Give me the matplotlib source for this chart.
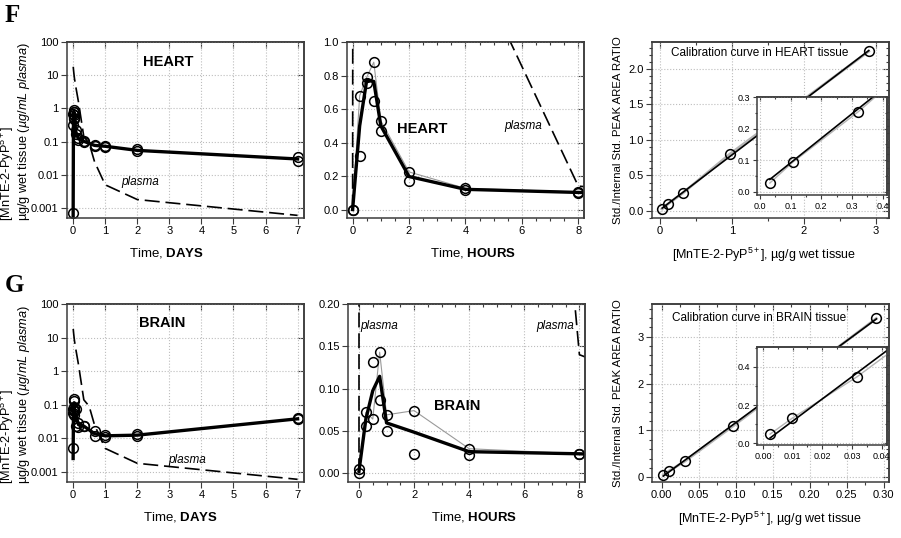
import numpy as np
import matplotlib
matplotlib.use('Agg')
import matplotlib.pyplot as plt
from matplotlib.ticker import MultipleLocator, NullLocator, LogLocator, FuncFormatter, FormatStrFormatter

plt.rcParams['font.family'] = ['Liberation Sans', 'DejaVu Sans']
plt.rcParams['mathtext.fontset'] = 'custom'
plt.rcParams['mathtext.rm'] = 'Liberation Sans'
plt.rcParams['mathtext.it'] = 'Liberation Sans:italic'
plt.rcParams['mathtext.bf'] = 'Liberation Sans:bold'

# sampling times, hours
t_hours = np.array([0, 0.25, 0.5, 0.75, 1, 2, 4, 8, 16, 24, 48, 168])

# heart tissue, two animals per time point (ug/g)
heart_a = np.array([0.0007, 0.68, 0.79, 0.88, 0.53, 0.225, 0.127, 0.105, 0.080, 0.075, 0.058, 0.034])
heart_b = np.array([0.0, 0.32, 0.755, 0.65, 0.47, 0.17, 0.115, 0.10, 0.074, 0.070, 0.051, 0.026])

# brain tissue
brain_a = np.array([0.005, 0.072, 0.064, 0.143, 0.069, 0.074, 0.029, 0.023, 0.016, 0.0127, 0.013, 0.039])
brain_b = np.array([0.0, 0.056, 0.131, 0.086, 0.050, 0.023, 0.022, 0.023, 0.0115, 0.011, 0.0118, 0.037])

# plasma (ug/mL)
plasma_hours = np.array([0, 0.083, 0.25, 0.5, 1, 2, 4, 8, 12, 16, 24, 48, 168])
plasma_conc = np.array([0, 18, 15, 12, 8, 4.5, 1.57, 0.14, 0.09, 0.025, 0.005, 0.0018, 0.0006])

# calibration standards
heart_cal_x = np.array([0.032, 0.107, 0.32, 0.97, 2.9])
heart_cal_y = np.array([0.028, 0.094, 0.253, 0.80, 2.25])
brain_cal_x = np.array([0.0024, 0.0099, 0.0318, 0.096, 0.29])
brain_cal_y = np.array([0.047, 0.131, 0.349, 1.09, 3.39])

heart_mean = (heart_a + heart_b) / 2
brain_mean = (brain_a + brain_b) / 2
t_days = t_hours / 24.
plasma_days = plasma_hours / 24.

FR = '#3c3c3c'
circ = dict(ls='none', marker='o', mfc='none', mec='k', ms=7, mew=1.1)
ylab = "[MnTE-2-PyP$^{5+}$]\nµg/g wet tissue $\\mathit{(µg/mL\\ plasma)}$"
callab = "[MnTE-2-PyP$^{5+}$], µg/g wet tissue"


def locs(step):
    if step is None:
        return NullLocator()
    if step == 'log':
        return LogLocator(base=10, numticks=12)
    return MultipleLocator(step)


def style(ax, xmaj, xmin, ymaj, ymin, lab=8, L=4):
    ax.grid(True, which='major', ls=':', color='#bdbdbd', lw=0.8)
    ax.set_axisbelow(True)
    for s in ax.spines.values():
        s.set_color(FR)
        s.set_linewidth(1.1)
    ax.tick_params(which='both', direction='out', color=FR, labelsize=lab, width=0.8, pad=2)
    ax.tick_params(which='major', length=L)
    ax.tick_params(which='minor', length=L * 0.6)
    ax.xaxis.set_major_locator(locs(xmaj))
    ax.xaxis.set_minor_locator(locs(xmin))
    ax.yaxis.set_major_locator(locs(ymaj))
    ax.yaxis.set_minor_locator(locs(ymin))
    # mirrored ticks pointing inwards on top / right
    sx = ax.secondary_xaxis('top')
    sx.xaxis.set_major_locator(locs(xmaj))
    sx.xaxis.set_minor_locator(locs(xmin))
    sx.tick_params(which='both', direction='in', labeltop=False, color=FR, width=0.8)
    sx.tick_params(which='major', length=L)
    sx.tick_params(which='minor', length=L * 0.6)
    sx.spines['top'].set_color(FR)
    sx.spines['top'].set_linewidth(1.1)
    sy = ax.secondary_yaxis('right')
    sy.yaxis.set_major_locator(locs(ymaj))
    sy.yaxis.set_minor_locator(locs(ymin))
    sy.tick_params(which='both', direction='in', labelright=False, color=FR, width=0.8)
    sy.tick_params(which='major', length=L)
    sy.tick_params(which='minor', length=L * 0.6)
    sy.spines['right'].set_color(FR)
    sy.spines['right'].set_linewidth(1.1)


fig = plt.figure(figsize=(9.01, 5.38), dpi=100)

W = 0.263
row_b = [0.5948, 0.1041]
row_h = [0.327, 0.331]
lefts = [[0.0744, 0.3851, 0.7236], [0.0744, 0.3862, 0.7236]]

tissues = [('HEART', heart_a, heart_b, heart_mean, heart_cal_x, heart_cal_y),
           ('BRAIN', brain_a, brain_b, brain_mean, brain_cal_x, brain_cal_y)]

for r, (name, ra, rb, rm, cx, cy) in enumerate(tissues):
    # --- days, log scale
    ax = fig.add_axes([lefts[r][0], row_b[r], W, row_h[r]])
    ax.set_yscale('log', nonpositive='mask')
    ax.plot(plasma_days, plasma_conc, color='k', lw=1.2, dashes=(9, 3.5))
    ax.plot(t_days, rm, color='k', lw=2.4)
    ax.plot(t_days, ra, **circ)
    ax.plot(t_days, rb, **circ)
    ax.set_xlim(-0.19, 7.2)
    ax.set_ylim(0.0005, 100)
    style(ax, 1, None, 'log', None)
    ax.yaxis.set_major_formatter(FuncFormatter(lambda v, p: '%g' % v))
    ax.xaxis.set_major_formatter(FormatStrFormatter('%d'))
    ax.text(-0.218, 0.49, ylab, transform=ax.transAxes, rotation=90, ha='center', va='center',
            multialignment='left', fontsize=9.2, linespacing=1.0)
    ax.set_xlabel('Time, $\\mathbf{DAYS}$', fontsize=9.5)
    ax.xaxis.set_label_coords([0.418, 0.477][r], -0.158)
    if r == 0:
        ax.text(2.95, 25, name, fontsize=10.5, fontweight='bold', ha='center', va='center')
        ax.text(2.1, 0.0059, 'plasma', fontsize=8.5, style='italic', ha='center', va='center')
    else:
        ax.text(2.79, 27, name, fontsize=10.5, fontweight='bold', ha='center', va='center')
        ax.text(3.57, 0.0023, 'plasma', fontsize=8.5, style='italic', ha='center', va='center')

    # --- hours, linear scale
    ax = fig.add_axes([lefts[r][1], row_b[r], W, row_h[r]])
    ax.plot(plasma_hours, plasma_conc, color='k', lw=1.2, dashes=(9, 3.5))
    ax.plot(t_hours, ra, color='#9a9a9a', lw=0.8)
    ax.plot(t_hours, rm, color='k', lw=2.4)
    ax.plot(t_hours, ra, **circ)
    ax.plot(t_hours, rb, **circ)
    ax.xaxis.set_major_formatter(FormatStrFormatter('%d'))
    if r == 0:
        ax.set_xlim(-0.2, 8.2)
        ax.set_ylim(-0.05, 1.0)
        style(ax, 2, 0.5, 0.2, None)
        ax.yaxis.set_major_formatter(FormatStrFormatter('%.1f'))
        ax.text(2.47, 0.48, name, fontsize=10.5, fontweight='bold', ha='center', va='center')
        ax.text(6.04, 0.5, 'plasma', fontsize=8.5, style='italic', ha='center', va='center')
    else:
        ax.set_xlim(-0.4, 8.2)
        ax.set_ylim(-0.0103, 0.2)
        style(ax, 2, 0.5, 0.05, None)
        ax.yaxis.set_major_formatter(FormatStrFormatter('%.2f'))
        ax.text(3.56, 0.080, name, fontsize=10.5, fontweight='bold', ha='center', va='center')
        ax.text(0.05, 0.174, 'plasma', fontsize=8.5, style='italic', ha='left', va='center')
        ax.text(7.12, 0.174, 'plasma', fontsize=8.5, style='italic', ha='center', va='center')
    ax.set_xlabel('Time, $\\mathbf{HOURS}$', fontsize=9.5)
    ax.xaxis.set_label_coords(0.53, -0.158)

    # --- calibration
    slope, icpt = np.polyfit(cx, cy, 1)
    ax = fig.add_axes([lefts[r][2], row_b[r], W, row_h[r]])
    ax.plot(cx, cy, color='#b4b4b4', lw=2.0)
    xs = np.array([cx[0], cx[-1]])
    ax.plot(xs, slope * xs + icpt, color='k', lw=1.2)
    ax.plot(cx, cy, **circ)
    if r == 0:
        ax.set_xlim(-0.11, 3.18)
        ax.set_ylim(-0.1, 2.38)
        style(ax, 1, 0.5, 0.5, 0.1)
        ax.yaxis.set_major_formatter(FormatStrFormatter('%.1f'))
        ax.xaxis.set_major_formatter(FormatStrFormatter('%d'))
        ax.text(0.456, 0.9375, 'Calibration curve in HEART tissue', transform=ax.transAxes,
                fontsize=8.5, ha='center', va='center')
    else:
        ax.set_xlim(-0.013, 0.307)
        ax.set_ylim(-0.1, 3.7)
        style(ax, 0.05, 0.025, 1, 0.2)
        ax.yaxis.set_major_formatter(FormatStrFormatter('%d'))
        ax.xaxis.set_major_formatter(FormatStrFormatter('%.2f'))
        ax.text(0.451, 0.921, 'Calibration curve in BRAIN tissue', transform=ax.transAxes,
                fontsize=8.5, ha='center', va='center')
    ax.text(-0.143, 0.5, 'Std./Internal Std. PEAK AREA RATIO', transform=ax.transAxes,
            rotation=90, ha='center', va='center', fontsize=8.2)
    ax.set_xlabel(callab, fontsize=9)
    ax.xaxis.set_label_coords([0.471, 0.496][r], -0.158)

    # inset with the low standards
    ins = fig.add_axes([0.8402, [0.6375, 0.1729][r], 0.1438, 0.1822])
    ins.set_facecolor('white')
    n = 3
    ins.plot(cx, cy, color='#b4b4b4', lw=1.0)
    xi = np.array([cx[0], cx[n]])
    ins.plot(xi, slope * xi + icpt, color='k', lw=1.2)
    ins.plot(cx[:n], cy[:n], **circ)
    if r == 0:
        ins.set_xlim(-0.01, 0.413)
        ins.set_ylim(-0.01, 0.3)
        style(ins, 0.1, 0.05, 0.1, 0.05, lab=6.5, L=3)
        ins.xaxis.set_major_formatter(FormatStrFormatter('%.1f'))
        ins.yaxis.set_major_formatter(FormatStrFormatter('%.1f'))
    else:
        ins.set_xlim(-0.002, 0.0417)
        ins.set_ylim(-0.01, 0.505)
        style(ins, 0.01, 0.005, 0.2, 0.1, lab=6.5, L=3)
        ins.xaxis.set_major_formatter(FormatStrFormatter('%.2f'))
        ins.yaxis.set_major_formatter(FormatStrFormatter('%.1f'))

fig.text(0.0055, 0.959, 'F', fontsize=18, fontweight='bold', family='Liberation Serif', va='baseline')
fig.text(0.0055, 0.457, 'G', fontsize=18, fontweight='bold', family='Liberation Serif', va='baseline')

fig.savefig('out.png', dpi=100)
